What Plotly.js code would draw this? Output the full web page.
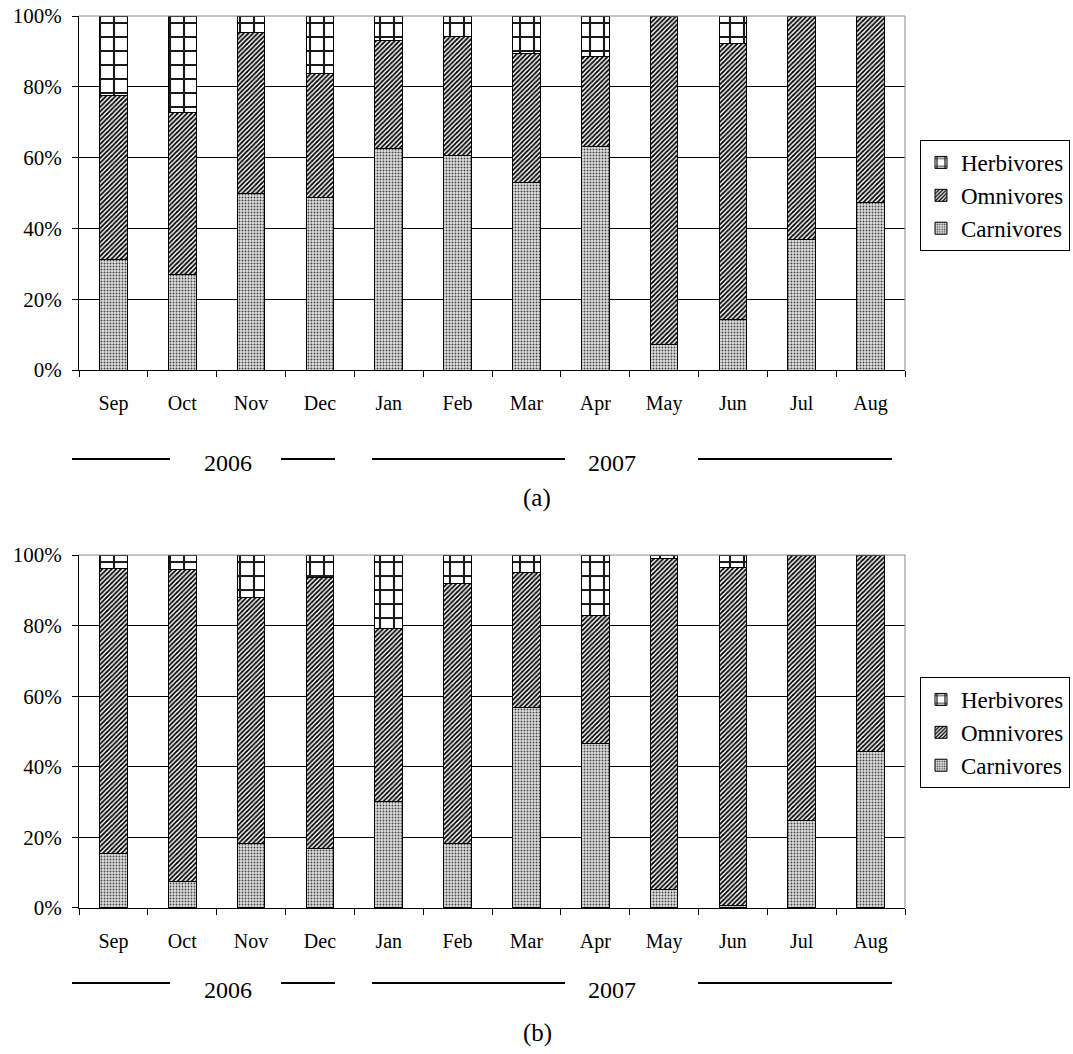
<!DOCTYPE html>
<html>
<head>
<meta charset="utf-8">
<script src="https://cdn.plot.ly/plotly-3.0.1.min.js"></script>
<style>
  html, body { margin: 0; padding: 0; background: #ffffff; }
  #chart { width: 1073px; height: 1054px; }
</style>
</head>
<body>
<div id="chart"></div>
<script>
// ---- Data (percent of individuals per feeding group) ----
var months = ['Sep', 'Oct', 'Nov', 'Dec', 'Jan', 'Feb', 'Mar', 'Apr', 'May', 'Jun', 'Jul', 'Aug'];
var seriesNames = ['Carnivores', 'Omnivores', 'Herbivores'];

// Panel (a)
var carnivoresA = [31.3, 27.1, 49.9, 48.7, 62.5, 60.5, 53.0, 63.1, 7.3, 14.3, 37.0, 47.4];
var omnivoresA  = [46.3, 45.6, 45.5, 35.2, 30.5, 33.8, 36.5, 25.4, 92.7, 78.0, 63.0, 52.6];
var herbivoresA = [22.4, 27.3, 4.6, 16.1, 7.0, 5.7, 10.5, 11.5, 0, 7.7, 0, 0];

// Panel (b)
var carnivoresB = [15.3, 7.4, 18.4, 16.9, 30.2, 18.2, 56.8, 46.7, 5.2, 0.7, 24.8, 44.2];
var omnivoresB  = [80.9, 88.5, 69.6, 76.8, 49.0, 73.8, 38.2, 36.1, 93.9, 95.8, 75.2, 55.8];
var herbivoresB = [3.8, 4.1, 12.0, 6.3, 20.8, 8.0, 5.0, 17.2, 0.9, 3.5, 0, 0];

var yTickVals = [0, 20, 40, 60, 80, 100];
var yearLabels = ['2006', '2007'];
var panelLabels = ['(a)', '(b)'];

// ---- Styles ----
var FONT = '"Liberation Serif", "Times New Roman", serif';
var patterns = {
  Carnivores: { shape: '.', fillmode: 'replace', fgcolor: '#444444', bgcolor: '#e2e2e2', size: 3, solidity: 0.32 },
  Omnivores:  { shape: '/', fillmode: 'replace', fgcolor: '#000000', bgcolor: '#ffffff', size: 3.3, solidity: 0.55 },
  Herbivores: { shape: '+', fillmode: 'replace', fgcolor: '#1a1a1a', bgcolor: '#ffffff', size: 14, solidity: 0.28 }
};
var ranks = { Herbivores: 1, Omnivores: 2, Carnivores: 3 };

function makeTrace(name, values, xa, ya, legendId, suffix) {
  return {
    type: 'bar',
    name: name,
    x: months,
    y: values,
    xaxis: xa,
    yaxis: ya,
    legend: legendId,
    legendgroup: name + suffix,
    legendrank: ranks[name],
    marker: {
      color: '#ffffff',
      pattern: patterns[name],
      line: { color: '#000000', width: 1 }
    },
    hoverinfo: 'x+y+name'
  };
}

var data = [
  makeTrace('Carnivores', carnivoresA, 'x', 'y', 'legend', 'A'),
  makeTrace('Omnivores', omnivoresA, 'x', 'y', 'legend', 'A'),
  makeTrace('Herbivores', herbivoresA, 'x', 'y', 'legend', 'A'),
  makeTrace('Carnivores', carnivoresB, 'x2', 'y2', 'legend2', 'B'),
  makeTrace('Omnivores', omnivoresB, 'x2', 'y2', 'legend2', 'B'),
  makeTrace('Herbivores', herbivoresB, 'x2', 'y2', 'legend2', 'B')
];

function xAxis(anchor) {
  return {
    anchor: anchor,
    domain: [0, 1],
    type: 'category',
    categoryorder: 'array',
    categoryarray: months,
    tickson: 'boundaries',
    ticks: 'outside',
    ticklen: 6,
    tickwidth: 1,
    tickcolor: '#000000',
    showline: true,
    linecolor: '#000000',
    linewidth: 1,
    showgrid: false,
    zeroline: false,
    tickfont: { family: FONT, size: 20, color: '#000000' },
    ticklabelstandoff: 15
  };
}
function yAxis(anchor, domain) {
  return {
    anchor: anchor,
    domain: domain,
    range: [0, 100],
    tickmode: 'array',
    tickvals: yTickVals,
    ticktext: yTickVals.map(function (v) { return v + '%'; }),
    ticks: 'outside',
    ticklen: 6,
    tickwidth: 1,
    tickcolor: '#000000',
    showline: true,
    linecolor: '#000000',
    linewidth: 1,
    showgrid: true,
    gridcolor: '#000000',
    gridwidth: 1,
    zeroline: false,
    tickfont: { family: FONT, size: 21, color: '#000000' },
    ticklabelstandoff: 6,
    fixedrange: true
  };
}

function legendBox(yTop) {
  return {
    xref: 'container',
    yref: 'container',
    x: 0.8574,
    xanchor: 'left',
    y: yTop,
    yanchor: 'top',
    bgcolor: '#ffffff',
    bordercolor: '#000000',
    borderwidth: 1,
    font: { family: FONT, size: 23, color: '#000000' },
    traceorder: 'grouped',
    tracegroupgap: 0,
    itemwidth: 30
  };
}

// decorative year brackets (paper coordinates)
function hline(x0, x1, y) {
  return { type: 'line', xref: 'paper', yref: 'paper', x0: x0, x1: x1, y0: y, y1: y,
           line: { color: '#000000', width: 2 } };
}
function border(xr, yr) {
  return [
    { type: 'line', xref: xr + ' domain', yref: yr + ' domain', x0: 0, x1: 1, y0: 1, y1: 1,
      line: { color: '#8a8a8a', width: 1 }, layer: 'above' },
    { type: 'line', xref: xr + ' domain', yref: yr + ' domain', x0: 1, x1: 1, y0: 0, y1: 1,
      line: { color: '#8a8a8a', width: 1 }, layer: 'above' }
  ];
}

var yLineA = 0.5034, yLineB = -0.0841;
var shapes = [].concat(
  border('x', 'y'), border('x2', 'y2'),
  [hline(-0.0085, 0.1102, yLineA), hline(0.2446, 0.3099, yLineA),
   hline(0.3547, 0.5884, yLineA), hline(0.7494, 0.9843, yLineA),
   hline(-0.0085, 0.1102, yLineB), hline(0.2446, 0.3099, yLineB),
   hline(0.3547, 0.5884, yLineB), hline(0.7494, 0.9843, yLineB)]
);

function txt(text, x, y, size) {
  return { text: text, xref: 'paper', yref: 'paper', x: x, y: y, xanchor: 'center', yanchor: 'middle',
           showarrow: false, font: { family: FONT, size: size, color: '#000000' } };
}
var annotations = [
  txt(yearLabels[0], 0.1804, 0.4985, 24),
  txt(yearLabels[1], 0.6453, 0.4985, 24),
  txt(panelLabels[0], 0.5545, 0.4594, 25),
  txt(yearLabels[0], 0.1804, -0.0915, 24),
  txt(yearLabels[1], 0.6453, -0.0915, 24),
  txt(panelLabels[1], 0.5545, -0.1400, 25)
];

var layout = {
  width: 1073,
  height: 1054,
  margin: { l: 79, r: 168, t: 16, b: 146, pad: 0, autoexpand: false },
  paper_bgcolor: '#ffffff',
  plot_bgcolor: '#ffffff',
  barmode: 'stack',
  bargap: 0.6,
  showlegend: true,
  font: { family: FONT, color: '#000000' },
  xaxis: xAxis('y'),
  yaxis: yAxis('x', [0.6031, 1]),
  xaxis2: xAxis('y2'),
  yaxis2: yAxis('x2', [0, 0.3957]),
  legend: legendBox(0.8672),
  legend2: legendBox(0.3577),
  shapes: shapes,
  annotations: annotations
};

Plotly.newPlot('chart', data, layout, { displayModeBar: false, staticPlot: true });
</script>
</body>
</html>
